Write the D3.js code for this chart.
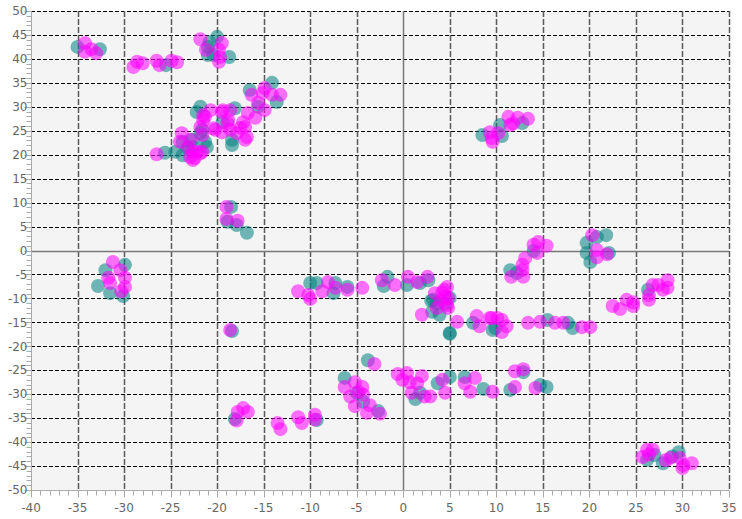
<!DOCTYPE html>
<html><head><meta charset="utf-8">
<script src="https://cdn.jsdelivr.net/npm/d3@7"></script>
<style>body{margin:0;background:#fff}svg{display:block}</style>
</head><body>
<script>
const xTicks = [-40,-35,-30,-25,-20,-15,-10,-5,0,5,10,15,20,25,30,35];
const yTicks = [-50,-45,-40,-35,-30,-25,-20,-15,-10,-5,0,5,10,15,20,25,30,35,40,45,50];

const tealPoints = [
[-35.0,42.5],[-32.6,42.0],[-25.5,38.7],
[-20.8,43.5],[-20.0,44.6],[-21.0,42.5],[-21.0,40.8],[-20.4,40.8],[-18.7,40.4],
[-22.2,28.9],[-21.8,30.0],[-21.6,25.2],[-21.3,22.7],[-21.1,21.6],[-19.4,26.8],[-18.1,29.7],[-18.4,23.1],[-18.4,22.0],[-16.5,33.5],[-15.6,30.0],[-13.6,31.0],[-14.1,35.0],
[-23.7,22.7],[-22.7,23.1],[-23.2,21.4],[-23.7,19.9],[-24.5,20.6],[-25.6,20.4],[-22.6,21.6],[-21.8,24.5],
[8.5,24.1],[10.4,26.2],[10.6,23.9],[12.8,26.6],
[14.0,-0.1],[11.5,-4.1],[12.2,-4.7],
[20.8,2.8],[21.8,3.2],[19.7,1.6],[19.7,-0.5],[20.1,-2.4],[22.1,-0.5],
[26.3,-8.2],
[9.9,-16.2],[15.5,-14.5],[17.7,-15.1],[18.2,-16.2],
[-10.0,-6.8],[-9.3,-6.8],[-7.3,-6.8],[-7.5,-8.9],[-6.0,-7.6],[-1.7,-5.5],[-2.1,-7.4],[0.4,-7.2],[1.8,-6.8],[2.7,-6.2],
[3.2,-10.3],[3.6,-11.0],[5.0,-9.9],[3.1,-12.8],[3.9,-13.4],[5.0,-17.2],[5.0,-17.4],[7.5,-15.1],[9.6,-16.6],[3.0,-10.5],[4.5,-11.0],
[-29.9,-3.0],[-32.0,-4.1],[-32.8,-7.4],[-31.5,-8.9],[-30.1,-9.5],
[-18.5,9.1],[-18.9,6.0],[-17.9,5.3],[-16.8,3.7],
[-18.4,-16.8],
[-3.8,-22.9],[-6.3,-26.6],[-4.3,-31.6],[-2.7,-33.5],[-5.0,-29.7],[-18.1,-35.2],[-9.3,-35.4],
[1.3,-31.0],[1.8,-29.7],[3.7,-27.7],[5.0,-26.4],[6.6,-26.4],[8.6,-28.9],[12.9,-25.4],[11.5,-29.1],[14.7,-28.1],[15.4,-28.5],
[26.2,-43.7],[27.0,-42.7],[27.9,-44.4],[29.6,-42.1],[28.9,-43.0]
];

const magentaPoints = [
[-34.2,43.3],[-34.2,41.5],[-33.5,42.0],[-33.0,41.2],
[-29.0,38.3],[-28.6,39.4],[-28.0,39.1],[-26.5,39.6],[-26.2,38.7],[-24.9,39.6],[-24.3,39.3],
[-21.8,44.1],[-21.2,41.9],[-19.5,43.3],[-19.8,41.9],[-19.7,40.4],[-19.8,39.4],
[-21.5,28.3],[-20.7,29.3],[-21.5,27.2],[-21.8,25.8],[-20.4,25.5],[-19.4,29.3],[-18.6,29.3],[-18.9,26.6],[-19.5,24.7],[-20.2,25.2],
[-17.2,26.8],[-17.0,25.8],[-16.7,28.7],[-16.8,23.7],[-17.0,23.1],[-16.3,32.5],[-15.1,32.9],[-14.1,32.5],[-13.2,32.5],[-15.6,30.8],
[-14.9,29.3],[-15.9,27.7],[-17.5,25.6],[-17.9,24.5],[-18.8,27.2],[-18.6,25.2],[-19.5,28.9],[-21.3,27.9],[-21.6,24.1],[-14.9,33.9],
[-23.8,24.5],[-24.0,22.7],[-23.1,21.6],[-22.9,23.1],[-22.6,20.6],[-22.4,19.3],[-21.8,20.3],[-26.5,20.1],[-22.9,19.5],[-22.6,18.9],[-21.6,20.6],[-22.2,20.6],
[9.3,24.7],[9.5,23.5],[9.6,22.7],[10.2,24.5],[11.3,27.9],[11.5,26.2],[12.3,27.7],[13.4,27.5],[11.8,26.5],
[14.5,1.8],[15.4,1.0],[14.0,1.2],[14.4,-0.5],[13.1,-1.6],[12.8,-3.0],[12.8,-4.1],[11.6,-5.5],[12.9,-5.5],
[20.3,3.2],[20.8,0.1],[20.8,-1.4],[21.9,-0.8],
[22.5,-11.6],[23.3,-12.2],[24.0,-10.3],[24.7,-10.8],[24.7,-11.6],[26.4,-10.3],[26.4,-9.3],[26.8,-7.2],[27.4,-7.2],[27.9,-8.2],[28.4,-6.2],[28.4,-7.8],
[10.1,-14.1],[10.6,-14.5],[10.6,-17.0],[11.1,-15.8],[9.5,-14.1],[13.4,-15.1],[14.7,-14.9],[16.3,-15.1],[17.2,-15.1],[19.2,-16.0],[20.1,-16.0],
[-11.3,-8.5],[-10.2,-9.3],[-10.0,-10.1],[-8.7,-8.5],[-8.1,-6.6],[-7.3,-7.8],[-6.0,-8.2],[-4.4,-7.8],[-2.3,-6.2],[-0.9,-7.2],[0.5,-5.5],[1.5,-6.6],[2.6,-5.5],
[4.7,-7.6],[3.4,-8.9],[4.2,-8.7],[4.5,-9.7],[4.8,-9.9],[4.7,-11.4],[3.6,-12.0],[4.8,-12.0],[2.0,-13.4],[5.8,-14.9],[7.9,-13.7],[8.2,-15.8],[9.3,-14.1],[4.4,-8.2],[4.0,-10.5],
[-31.2,-2.4],[-30.4,-4.1],[-31.7,-5.7],[-29.9,-5.7],[-31.5,-6.8],[-29.9,-7.6],[-30.3,-8.5],
[-19.0,9.1],[-19.0,6.6],[-17.8,6.2],[-18.6,-16.6],
[-3.1,-23.7],[-6.3,-28.5],[-5.2,-27.5],[-4.4,-28.5],[-5.7,-30.5],[-4.3,-30.1],[-5.2,-32.5],[-3.6,-32.3],[-3.9,-33.9],[-2.5,-34.1],[-4.8,-29.5],
[-17.2,-32.9],[-17.8,-33.7],[-16.7,-33.7],[-17.9,-35.5],[-13.5,-36.0],[-13.2,-37.3],[-11.3,-34.8],[-10.9,-36.0],[-9.5,-34.3],[-9.5,-35.3],
[-0.6,-25.8],[0.4,-25.6],[-0.1,-27.0],[0.7,-27.5],[2.0,-26.2],[1.5,-27.7],[0.9,-29.7],[2.3,-30.5],[2.9,-30.5],[4.2,-27.0],[4.5,-29.7],
[6.6,-27.7],[7.7,-26.6],[7.2,-29.5],[9.6,-29.5],[12.0,-25.2],[12.9,-24.8],[12.0,-28.5],[14.2,-28.7],
[25.7,-43.1],[26.2,-41.6],[26.8,-41.6],[26.4,-42.6],[28.7,-43.3],[29.7,-43.3],[30.1,-44.8],[30.0,-45.4],[31.0,-44.4],[28.2,-43.8]
];

const W = 742, H = 519;
const m = {left:31, right:13, top:11, bottom:29};
const svg = d3.select("body").append("svg").attr("width", W).attr("height", H);
const x = d3.scaleLinear().domain([-40,35]).range([m.left, W - m.right]);
const y = d3.scaleLinear().domain([-50,50]).range([H - m.bottom, m.top]);

svg.append("rect").attr("x", x(-40)).attr("y", y(50))
  .attr("width", x(35)-x(-40)).attr("height", y(-50)-y(50)).attr("fill", "#f4f4f4");

// horizontal grid
svg.append("g").selectAll("line").data(yTicks.filter(d => d !== 0 && d !== -50)).join("line")
  .attr("x1", x(-40)).attr("x2", x(35))
  .attr("y1", d => Math.round(y(d)) + 0.5).attr("y2", d => Math.round(y(d)) + 0.5)
  .attr("stroke", "#000").attr("stroke-width", 1).attr("stroke-dasharray", "4,2");
// vertical grid
svg.append("g").selectAll("line").data(xTicks.filter(d => d !== 0 && d !== -40)).join("line")
  .attr("y1", y(50)).attr("y2", y(-50))
  .attr("x1", d => Math.round(x(d)) + 0.5).attr("x2", d => Math.round(x(d)) + 0.5)
  .attr("stroke", "#5a5a5a").attr("stroke-width", 1.5).attr("stroke-dasharray", "6,2");

// zero axes
svg.append("line").attr("x1", x(-40)).attr("x2", x(35))
  .attr("y1", Math.round(y(0)) + 0.5).attr("y2", Math.round(y(0)) + 0.5)
  .attr("stroke", "#777").attr("stroke-width", 1.5);
svg.append("line").attr("y1", y(50)).attr("y2", y(-50))
  .attr("x1", Math.round(x(0)) + 0.5).attr("x2", Math.round(x(0)) + 0.5)
  .attr("stroke", "#777").attr("stroke-width", 1.5);

// points
function drawPoints(pts, color) {
  svg.append("g").selectAll("circle").data(pts).join("circle")
    .attr("cx", d => x(d[0])).attr("cy", d => y(d[1])).attr("r", 7)
    .attr("fill", color).attr("fill-opacity", 0.55);
}
drawPoints(tealPoints, "#008080");
drawPoints(magentaPoints, "#ff00ff");

// axes
const minorX = d3.range(-40, 36, 1);
const minorY = d3.range(-50, 51, 1);
const axColor = "#aaa";
const gx = svg.append("g").attr("transform", `translate(0,${Math.round(y(-50)) + 0.5})`);
gx.append("line").attr("x1", x(-40)).attr("x2", x(35)).attr("stroke", axColor);
gx.selectAll(".mn").data(minorX).join("line").attr("class","mn")
  .attr("x1", d => Math.round(x(d)) + 0.5).attr("x2", d => Math.round(x(d)) + 0.5)
  .attr("y1", 0).attr("y2", d => d % 5 === 0 ? 7 : 5).attr("stroke", axColor);
gx.selectAll("text").data(xTicks).join("text")
  .attr("x", d => x(d)).attr("y", 21).attr("text-anchor", "middle")
  .attr("font-family", "DejaVu Sans, sans-serif").attr("font-size", 12).attr("fill", "#666")
  .text(d => d);

const gy = svg.append("g").attr("transform", `translate(${Math.round(x(-40)) + 0.5},0)`);
gy.append("line").attr("y1", y(-50)).attr("y2", y(50)).attr("stroke", axColor);
gy.selectAll(".mn").data(minorY).join("line").attr("class","mn")
  .attr("y1", d => Math.round(y(d)) + 0.5).attr("y2", d => Math.round(y(d)) + 0.5)
  .attr("x1", 0).attr("x2", d => d % 5 === 0 ? -7 : -5).attr("stroke", axColor);
gy.selectAll("text").data(yTicks).join("text")
  .attr("x", -4).attr("y", d => y(d)).attr("dy", "0.35em").attr("text-anchor", "end")
  .attr("font-family", "DejaVu Sans, sans-serif").attr("font-size", 12).attr("fill", "#666")
  .text(d => d);
</script>
</body></html>
